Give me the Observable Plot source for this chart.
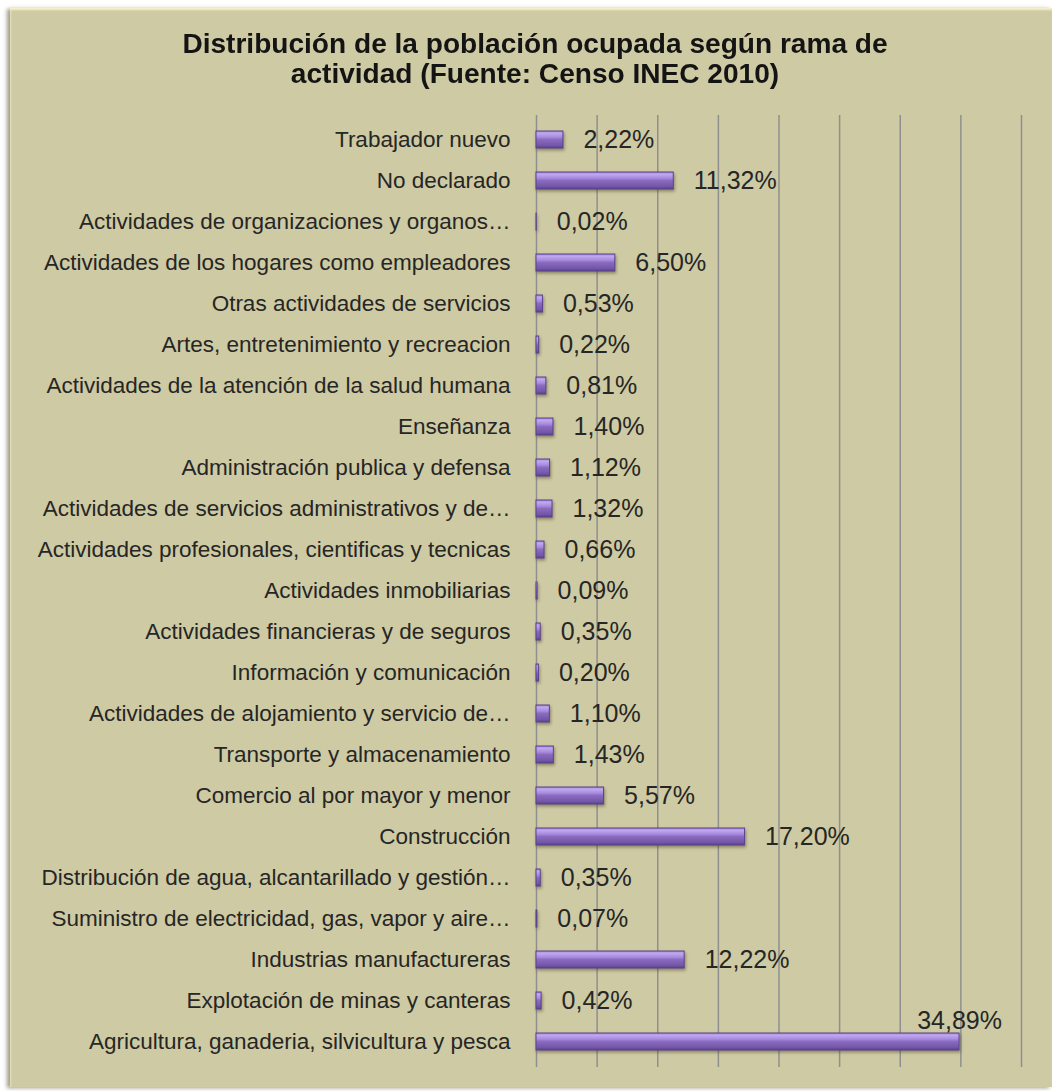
<!DOCTYPE html>
<html>
<head>
<meta charset="utf-8">
<script src="https://cdn.jsdelivr.net/npm/d3@7"></script>
<script src="https://cdn.jsdelivr.net/npm/@observablehq/plot@0.6"></script>
<style>
  html, body { margin: 0; padding: 0; background: #ffffff; }
  #panel {
    position: absolute; left: 10px; top: 8px; width: 1042px; height: 1079px;
    background: #cecaa3;
    box-shadow: -3px 1px 4px rgba(80,75,40,0.55), inset 0 3px 2px -1px #f6f1cc, inset 2px 0 2px -1px #e6e1b8;
    font-family: "Liberation Sans", Arial, sans-serif;
  }
  #title {
    position: absolute; left: 0; top: 21px; width: 1050px; text-align: center;
    font-weight: bold; font-size: 27px; line-height: 30px; color: #141414;
    transform: scaleX(1.04); transform-origin: 525px 0;
  }
  #chart { position: absolute; left: 0; top: 92px; }
  #chart g[aria-label="bar"] rect { filter: drop-shadow(1px 2px 1.5px rgba(60,50,30,0.45)); }
</style>
</head>
<body>
<div id="panel">
  <div id="title">Distribución de la población ocupada según rama de<br>actividad (Fuente: Censo INEC 2010)</div>
  <div id="chart"></div>
</div>
<script>
const categories = [
  "Trabajador nuevo",
  "No declarado",
  "Actividades de organizaciones y organos…",
  "Actividades de los hogares como empleadores",
  "Otras actividades de servicios",
  "Artes, entretenimiento y recreacion",
  "Actividades de la atención de la salud humana",
  "Enseñanza",
  "Administración publica y defensa",
  "Actividades de servicios administrativos y de…",
  "Actividades profesionales, cientificas y tecnicas",
  "Actividades inmobiliarias",
  "Actividades financieras y de seguros",
  "Información y comunicación",
  "Actividades de alojamiento y servicio de…",
  "Transporte y almacenamiento",
  "Comercio al por mayor y menor",
  "Construcción",
  "Distribución de agua, alcantarillado y gestión…",
  "Suministro de electricidad, gas, vapor y aire…",
  "Industrias manufactureras",
  "Explotación de minas y canteras",
  "Agricultura, ganaderia, silvicultura y pesca"
];
const values = [2.22, 11.32, 0.02, 6.50, 0.53, 0.22, 0.81, 1.40, 1.12, 1.32, 0.66, 0.09, 0.35, 0.20, 1.10, 1.43, 5.57, 17.20, 0.35, 0.07, 12.22, 0.42, 34.89];
const gridTicks = [0, 5, 10, 15, 20, 25, 30, 35, 40];

const data = categories.map((c, i) => ({category: c, value: values[i], label: values[i].toFixed(2).replace(".", ",") + "%"}));

const defs = () => {
  const d = d3.create("svg:defs");
  const g = d.append("linearGradient").attr("id", "barGrad").attr("x1", 0).attr("y1", 0).attr("x2", 0).attr("y2", 1);
  [[0, "#9b7fcf"], [0.12, "#c2a9f0"], [0.35, "#a98ce0"], [0.5, "#8a6bc0"], [0.85, "#7456a8"], [1, "#5a418a"]]
    .forEach(([o, c]) => g.append("stop").attr("offset", o).attr("stop-color", c));
  return d.node();
};

const chart = Plot.plot({
  width: 1040,
  height: 980,
  marginTop: 15,
  marginBottom: 13,
  marginLeft: 526,
  marginRight: 29,
  style: {background: "transparent", fontFamily: "'Liberation Sans', Arial, sans-serif", color: "#262626"},
  x: {domain: [0, 40], axis: null},
  y: {domain: categories, paddingInner: 0.58, paddingOuter: 0.29, label: null, tickSize: 0, tickPadding: 26},
  marks: [
    defs,
    Plot.ruleX(gridTicks, {x: d => d, stroke: "#8f8f8f", strokeWidth: 1.5}),
    Plot.barX(data, {x: "value", y: "category", fill: "url(#barGrad)", stroke: "#5b4390", strokeWidth: 1}),
    Plot.text(data.filter(d => d.value < 30), {x: "value", y: "category", text: "label", dx: 20, textAnchor: "start", fontSize: 25, fill: "#262626"}),
    Plot.text(data.filter(d => d.value >= 30), {x: "value", y: "category", text: "label", dy: -21, textAnchor: "middle", fontSize: 25, fill: "#262626"}),
    Plot.axisY({tickSize: 0, tickPadding: 26, fontSize: 22.5, label: null, fill: "#262626"})
  ]
});
document.getElementById("chart").appendChild(chart);
</script>
</body>
</html>
